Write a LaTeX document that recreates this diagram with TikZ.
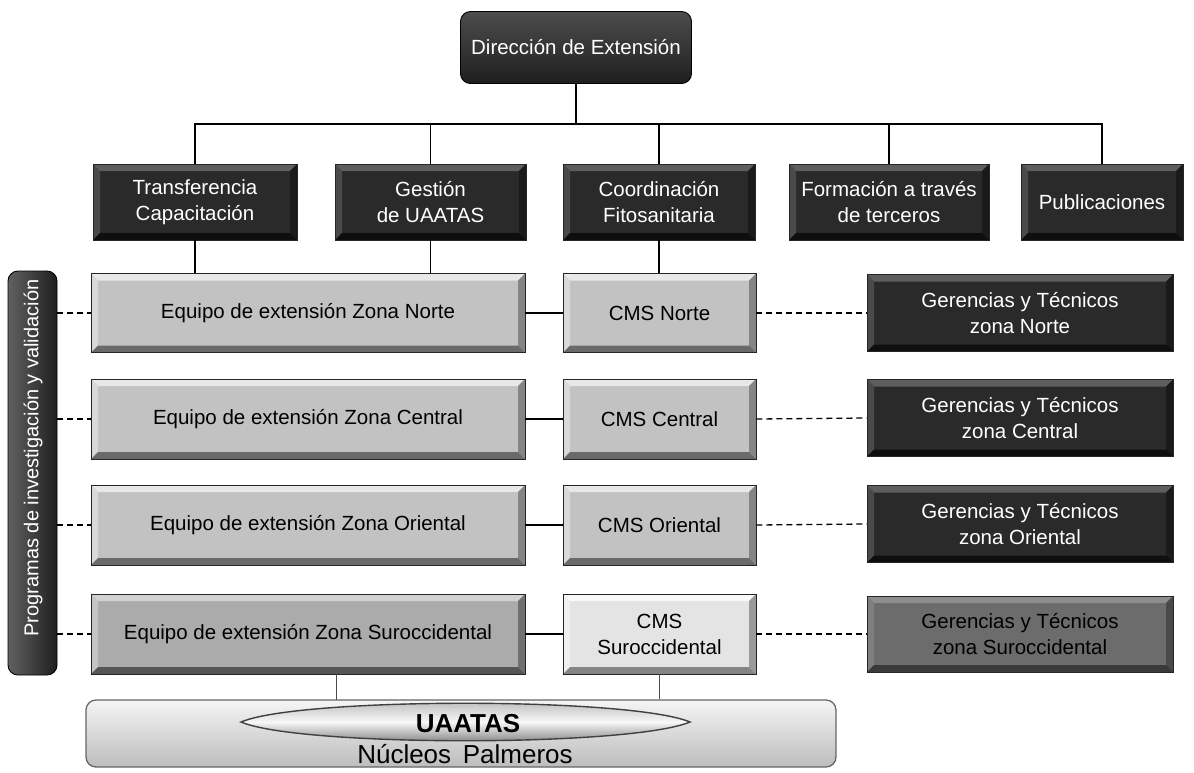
\documentclass[tikz,border=0pt]{standalone}
\usepackage{fontspec}
\setmainfont{Liberation Sans}
\usetikzlibrary{calc}
\definecolor{dkface}{HTML}{2A2A2A}
\definecolor{dkhi}{HTML}{5E5E5E}
\definecolor{dkleft}{HTML}{4A4A4A}
\definecolor{dkright}{HTML}{1A1A1A}
\definecolor{dklo}{HTML}{0E0E0E}
\definecolor{ltface}{HTML}{C2C2C2}
\definecolor{lthi}{HTML}{E8E8E8}
\definecolor{ltleft}{HTML}{D8D8D8}
\definecolor{ltright}{HTML}{858585}
\definecolor{ltlo}{HTML}{6A6A6A}
\definecolor{mdface}{HTML}{ABABAB}
\definecolor{mdhi}{HTML}{D2D2D2}
\definecolor{mdleft}{HTML}{C4C4C4}
\definecolor{mdright}{HTML}{707070}
\definecolor{mdlo}{HTML}{565656}
\definecolor{wtface}{HTML}{E4E4E4}
\definecolor{wthi}{HTML}{F8F8F8}
\definecolor{wtleft}{HTML}{F0F0F0}
\definecolor{wtright}{HTML}{9A9A9A}
\definecolor{wtlo}{HTML}{858585}
\definecolor{gyface}{HTML}{6C6C6C}
\definecolor{gyhi}{HTML}{8E8E8E}
\definecolor{gyleft}{HTML}{7E7E7E}
\definecolor{gyright}{HTML}{4A4A4A}
\definecolor{gylo}{HTML}{3A3A3A}
\newcommand{\bodysize}{\fontsize{20.5}{26}\selectfont}
\tikzset{
  bevel/.style n args={4}{path picture={
    \fill[#1] (path picture bounding box.north west) -- (path picture bounding box.north east)
      -- ([shift={(-7pt,-7pt)}]path picture bounding box.north east)
      -- ([shift={(7pt,-7pt)}]path picture bounding box.north west) -- cycle;
    \fill[#2] (path picture bounding box.north west) -- ([shift={(7pt,-7pt)}]path picture bounding box.north west)
      -- ([shift={(7pt,7pt)}]path picture bounding box.south west) -- (path picture bounding box.south west) -- cycle;
    \fill[#3] (path picture bounding box.north east) -- ([shift={(-7pt,-7pt)}]path picture bounding box.north east)
      -- ([shift={(-7pt,7pt)}]path picture bounding box.south east) -- (path picture bounding box.south east) -- cycle;
    \fill[#4] (path picture bounding box.south west) -- (path picture bounding box.south east)
      -- ([shift={(-7pt,7pt)}]path picture bounding box.south east)
      -- ([shift={(7pt,7pt)}]path picture bounding box.south west) -- cycle;
  }},
  basebox/.style={draw=black!85, line width=0.9pt, inner sep=0pt, align=center, font=\bodysize},
  darkbox/.style={basebox, fill=dkface, text=white, bevel={dkhi}{dkleft}{dkright}{dklo}},
  lightbox/.style={basebox, fill=ltface, text=black, bevel={lthi}{ltleft}{ltright}{ltlo}},
  midbox/.style={basebox, fill=mdface, text=black, bevel={mdhi}{mdleft}{mdright}{mdlo}},
  whitebox/.style={basebox, fill=wtface, text=black, bevel={wthi}{wtleft}{wtright}{wtlo}},
  greybox/.style={basebox, fill=gyface, text=black, bevel={gyhi}{gyleft}{gyright}{gylo}},
  link/.style={draw=black, line width=1.2pt},
  thinlink/.style={draw=black!70, line width=0.9pt},
  dashlink/.style={draw=black, line width=1.3pt, dash pattern=on 6pt off 4pt},
}
\begin{document}
\begin{tikzpicture}[x=1pt,y=-1pt]
\useasboundingbox (0,0) rectangle (1194,772);
\fill[white] (0,0) rectangle (1194,772);

% top
\node[draw=black, line width=0.9pt, rounded corners=10pt, top color=black!70, bottom color=black!88,
      text=white, font=\bodysize, minimum width=231pt, minimum height=72pt, inner sep=0pt]
      (dir) at (576,47.5) {Dirección de Extensión};

% second row
\node[darkbox, minimum width=204pt, minimum height=76pt] (trans) at (195,202) {Transferencia\\Capacitación};
\node[darkbox, minimum width=191pt, minimum height=76pt] (gest) at (430.5,202) {Gestión\\de UAATAS};
\node[darkbox, minimum width=192pt, minimum height=76pt] (coord) at (659,202) {Coordinación\\Fitosanitaria};
\node[darkbox, minimum width=200pt, minimum height=76pt] (form) at (889,202) {Formación a través\\de terceros};
\node[darkbox, minimum width=162pt, minimum height=76pt] (pub) at (1102,202) {Publicaciones};

\coordinate (bus) at (576,124);
\draw[link] (dir.south) -- (bus);
\draw[link] (bus) -| (trans.north);
\draw[link] (bus) -| (gest.north);
\draw[link] (bus) -| (coord.north);
\draw[link] (bus) -| (form.north);
\draw[link] (bus) -| (pub.north);

% program box
\node[draw=black, line width=0.9pt, rounded corners=10pt, left color=black!62, right color=black!88,
      minimum width=49pt, minimum height=404pt, inner sep=0pt] (prog) at (32.5,473) {};
\node[rotate=90, text=white, font=\fontsize{20}{24}\selectfont, inner sep=0pt] (progtxt) at (33,458) {Programas de investigación y validación};

% rows
\node[lightbox, minimum width=434pt, minimum height=79pt] (eqN) at (308,313) {Equipo de extensión Zona Norte};
\node[lightbox, minimum width=193pt, minimum height=79pt] (cmsN) at (659.5,313) {CMS Norte};
\node[darkbox, minimum width=306pt, minimum height=77pt] (gerN) at (1020,313) {Gerencias y Técnicos\\zona Norte};

\node[lightbox, minimum width=434pt, minimum height=80pt] (eqC) at (308,419) {Equipo de extensión Zona Central};
\node[lightbox, minimum width=193pt, minimum height=80pt] (cmsC) at (659.5,419) {CMS Central};
\node[darkbox, minimum width=306pt, minimum height=77pt] (gerC) at (1020,418) {Gerencias y Técnicos\\zona Central};

\node[lightbox, minimum width=434pt, minimum height=80pt] (eqO) at (308,525) {Equipo de extensión Zona Oriental};
\node[lightbox, minimum width=193pt, minimum height=80pt] (cmsO) at (659.5,525) {CMS Oriental};
\node[darkbox, minimum width=306pt, minimum height=77pt] (gerO) at (1020,524) {Gerencias y Técnicos\\zona Oriental};

\node[midbox, minimum width=434pt, minimum height=80pt] (eqS) at (308,634) {Equipo de extensión Zona Suroccidental};
\node[whitebox, minimum width=193pt, minimum height=80pt] (cmsS) at (659.5,634) {CMS\\Suroccidental};
\node[greybox, minimum width=306pt, minimum height=76pt] (gerS) at (1020,634) {Gerencias y Técnicos\\zona Suroccidental};

% vertical links from second row
\draw[link] (trans.south) -- (trans.south |- eqN.north);
\draw[link] (gest.south) -- (gest.south |- eqN.north);
\draw[link] (coord.south) -- (coord.south |- cmsN.north);

% horizontal links
\foreach \r in {N,C,O,S}{
  \draw[link] (eq\r.east) -- (cms\r.west);
  \draw[dashlink] (prog.east |- eq\r.west) -- (eq\r.west);
  \draw[dashlink] (cms\r.east) -- (ger\r.west);
}

% bottom box
\node[draw=black!60, line width=1.3pt, rounded corners=10pt, top color=black!4, bottom color=black!26,
      minimum width=750pt, minimum height=67pt, inner sep=0pt] (base) at (461,733.5) {};
\coordinate (drop) at (336,700);
\draw[thinlink] (eqS.south -| drop) -- (drop);
\draw[thinlink] (cmsS.south) -- (cmsS.south |- base.north);

% lens
\path[draw=black!75, line width=1.4pt, top color=black!30, bottom color=black!58, middle color=black!3]
  (241,722) .. controls (300,697) and (630,697) .. (690,722)
  .. controls (630,747) and (300,747) .. (241,722) -- cycle;
\node[font=\fontsize{26}{30}\selectfont\bfseries, inner sep=0pt] (uaatas) at (468,724) {UAATAS};
\node[font=\fontsize{26}{30}\selectfont, inner sep=0pt, anchor=base] (nucleos) at (465,763) {Núcleos\hspace{0.45em}Palmeros};
\end{tikzpicture}
\end{document}
